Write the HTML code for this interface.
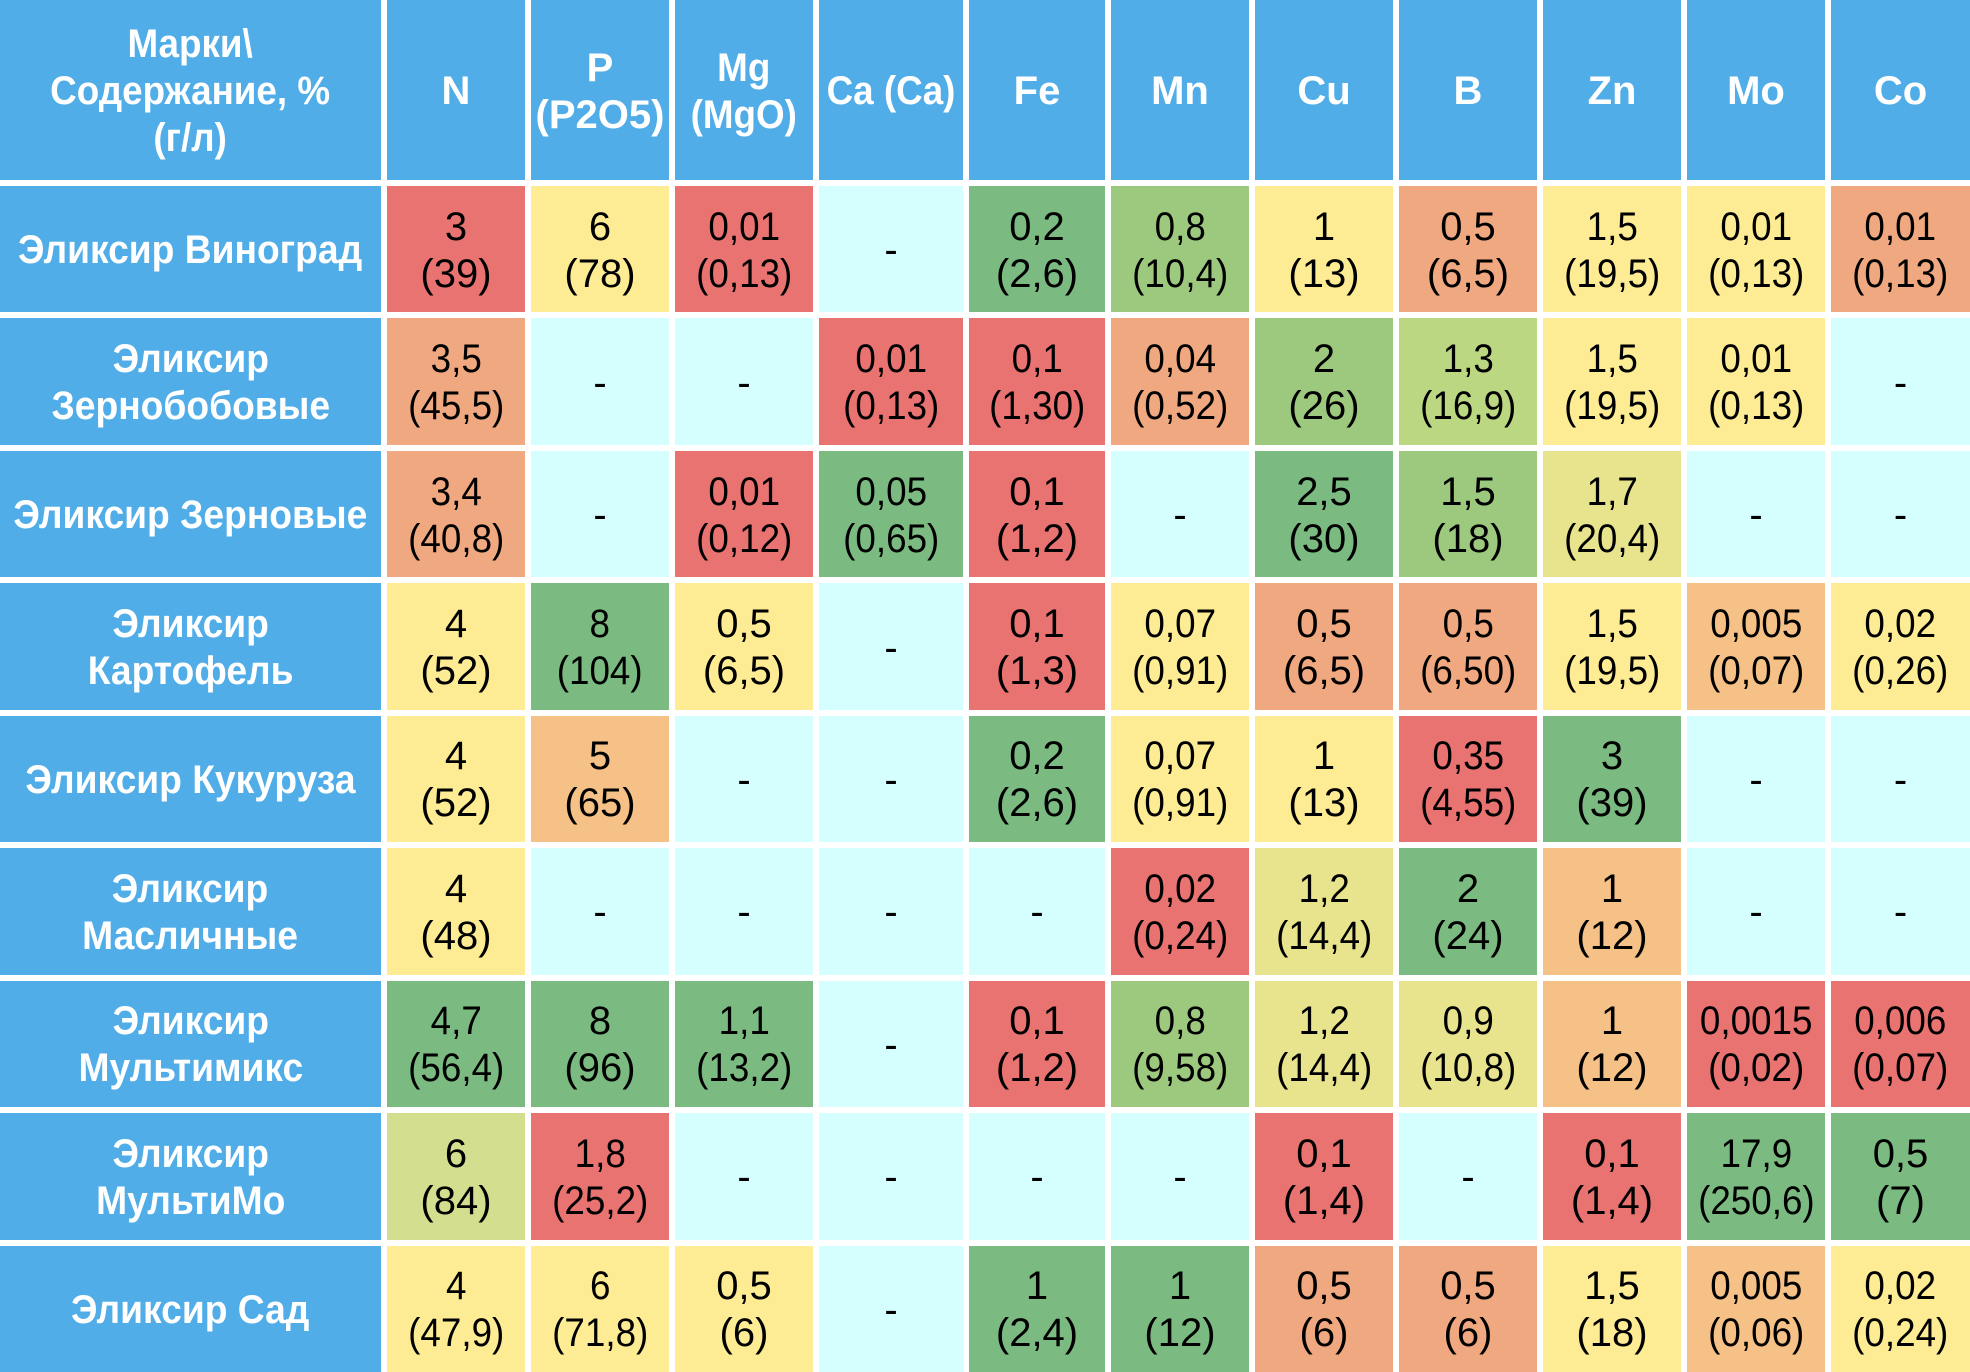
<!DOCTYPE html>
<html><head><meta charset="utf-8"><style>
html,body{margin:0;padding:0;background:#fff;}
body{width:1970px;height:1372px;overflow:hidden;}
.g{display:grid;width:1970px;height:1372px;grid-template-columns:381px 138px 138px 138px 144px 136px 138px 138px 138px 138px 138px 139px;grid-template-rows:180px repeat(9,1fr);gap:6px;}
.g>div{display:flex;align-items:center;justify-content:center;text-align:center;font-family:"Liberation Sans",Arial,sans-serif;font-size:40px;line-height:47px;color:#000;padding-top:3px;box-sizing:border-box;}
.g>div span{display:inline-block;transform:scaleX(0.92);white-space:nowrap;}
.h{background:#50ade8;color:#fff!important;font-weight:bold;}
.n{background:#50ade8;color:#fff!important;font-weight:bold;font-size:40px!important;}
.n span{transform:scaleX(0.93)!important;}
.r{background:#e87371}.y{background:#fdec94}.s{background:#efa880}.o{background:#f5c186}
.G{background:#7bbb81}.l{background:#9dc97e}.Y{background:#bcd782}.p{background:#e8e48e}
.q{background:#d3de8e}.c{background:#d5ffff}
</style></head><body><div class="g">
<div class="h"><span>Марки\<br>Содержание, %<br>(г/л)</span></div><div class="h">N</div><div class="h">P<br>(P2O5)</div><div class="h"><span>Mg<br>(MgO)</span></div><div class="h"><span>Ca (Ca)</span></div><div class="h">Fe</div><div class="h">Mn</div><div class="h">Cu</div><div class="h">B</div><div class="h">Zn</div><div class="h">Mo</div><div class="h">Co</div>

<div class="n"><span>Эликсир Виноград</span></div><div class="r">3<br>(39)</div><div class="y">6<br>(78)</div><div class="r"><span>0,01<br>(0,13)</span></div><div class="c">-</div><div class="G">0,2<br>(2,6)</div><div class="l"><span>0,8<br>(10,4)</span></div><div class="y">1<br>(13)</div><div class="s">0,5<br>(6,5)</div><div class="y"><span>1,5<br>(19,5)</span></div><div class="y"><span>0,01<br>(0,13)</span></div><div class="s"><span>0,01<br>(0,13)</span></div>

<div class="n"><span>Эликсир<br>Зернобобовые</span></div><div class="s"><span>3,5<br>(45,5)</span></div><div class="c">-</div><div class="c">-</div><div class="r"><span>0,01<br>(0,13)</span></div><div class="r"><span>0,1<br>(1,30)</span></div><div class="s"><span>0,04<br>(0,52)</span></div><div class="l">2<br>(26)</div><div class="Y"><span>1,3<br>(16,9)</span></div><div class="y"><span>1,5<br>(19,5)</span></div><div class="y"><span>0,01<br>(0,13)</span></div><div class="c">-</div>

<div class="n"><span>Эликсир Зерновые</span></div><div class="s"><span>3,4<br>(40,8)</span></div><div class="c">-</div><div class="r"><span>0,01<br>(0,12)</span></div><div class="G"><span>0,05<br>(0,65)</span></div><div class="r">0,1<br>(1,2)</div><div class="c">-</div><div class="G">2,5<br>(30)</div><div class="l">1,5<br>(18)</div><div class="p"><span>1,7<br>(20,4)</span></div><div class="c">-</div><div class="c">-</div>

<div class="n"><span>Эликсир<br>Картофель</span></div><div class="y">4<br>(52)</div><div class="G"><span>8<br>(104)</span></div><div class="y">0,5<br>(6,5)</div><div class="c">-</div><div class="r">0,1<br>(1,3)</div><div class="y"><span>0,07<br>(0,91)</span></div><div class="s">0,5<br>(6,5)</div><div class="s"><span>0,5<br>(6,50)</span></div><div class="y"><span>1,5<br>(19,5)</span></div><div class="o"><span>0,005<br>(0,07)</span></div><div class="y"><span>0,02<br>(0,26)</span></div>

<div class="n"><span>Эликсир Кукуруза</span></div><div class="y">4<br>(52)</div><div class="o">5<br>(65)</div><div class="c">-</div><div class="c">-</div><div class="G">0,2<br>(2,6)</div><div class="y"><span>0,07<br>(0,91)</span></div><div class="y">1<br>(13)</div><div class="r"><span>0,35<br>(4,55)</span></div><div class="G">3<br>(39)</div><div class="c">-</div><div class="c">-</div>

<div class="n"><span>Эликсир<br>Масличные</span></div><div class="y">4<br>(48)</div><div class="c">-</div><div class="c">-</div><div class="c">-</div><div class="c">-</div><div class="r"><span>0,02<br>(0,24)</span></div><div class="p"><span>1,2<br>(14,4)</span></div><div class="G">2<br>(24)</div><div class="o">1<br>(12)</div><div class="c">-</div><div class="c">-</div>

<div class="n"><span>Эликсир<br>Мультимикс</span></div><div class="G"><span>4,7<br>(56,4)</span></div><div class="G">8<br>(96)</div><div class="G"><span>1,1<br>(13,2)</span></div><div class="c">-</div><div class="r">0,1<br>(1,2)</div><div class="l"><span>0,8<br>(9,58)</span></div><div class="p"><span>1,2<br>(14,4)</span></div><div class="p"><span>0,9<br>(10,8)</span></div><div class="o">1<br>(12)</div><div class="r"><span>0,0015<br>(0,02)</span></div><div class="r"><span>0,006<br>(0,07)</span></div>

<div class="n"><span>Эликсир<br>МультиМо</span></div><div class="q">6<br>(84)</div><div class="r"><span>1,8<br>(25,2)</span></div><div class="c">-</div><div class="c">-</div><div class="c">-</div><div class="c">-</div><div class="r">0,1<br>(1,4)</div><div class="c">-</div><div class="r">0,1<br>(1,4)</div><div class="G"><span>17,9<br>(250,6)</span></div><div class="G">0,5<br>(7)</div>

<div class="n"><span>Эликсир Сад</span></div><div class="y"><span>4<br>(47,9)</span></div><div class="y"><span>6<br>(71,8)</span></div><div class="y">0,5<br>(6)</div><div class="c">-</div><div class="G">1<br>(2,4)</div><div class="G">1<br>(12)</div><div class="s">0,5<br>(6)</div><div class="s">0,5<br>(6)</div><div class="y">1,5<br>(18)</div><div class="o"><span>0,005<br>(0,06)</span></div><div class="y"><span>0,02<br>(0,24)</span></div>
</div></body></html>
